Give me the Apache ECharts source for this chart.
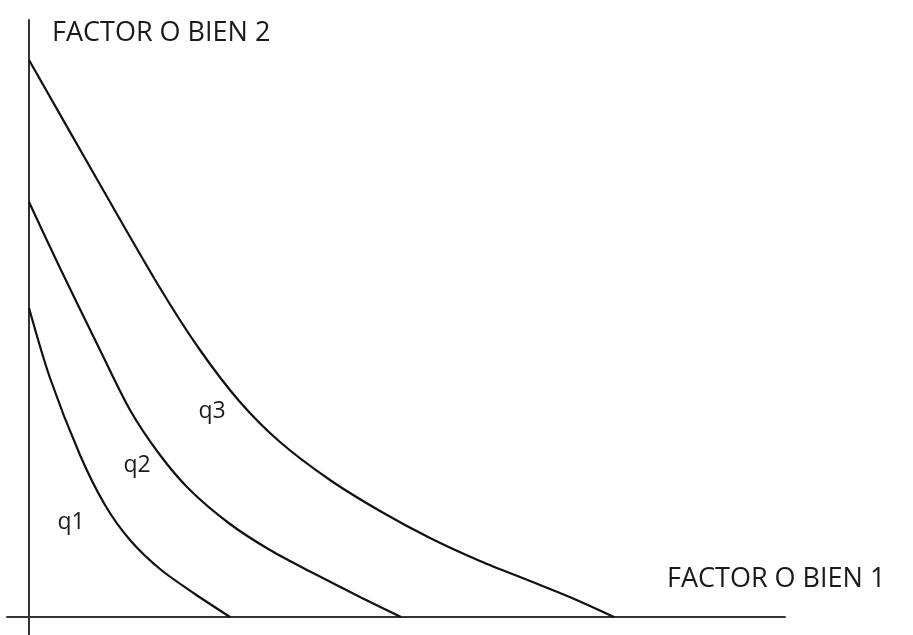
<!DOCTYPE html>
<html>
<head>
<meta charset="utf-8">
<script src="https://cdn.jsdelivr.net/npm/echarts@6/dist/echarts.min.js"></script>
<style>
  html, body { margin: 0; padding: 0; background: #fff; }
  #isoCharts { width: 913px; height: 635px; }
</style>
</head>
<body>
<div id="isoCharts"></div>
<script>
// curvas de isocuanta, [factor 1, factor 2]
var q1 = [[0, 309], [21, 239], [51, 162], [76, 112], [101, 77], [131, 48], [166, 23], [201, 0]];
var q2 = [[0, 415], [31, 349], [71, 267], [101, 207], [131, 162], [161, 127], [201, 93],
  [241, 67], [284, 44], [331, 20], [372, 0]];
var q3 = [[0, 557], [65, 443], [131, 329], [171, 267], [211, 215], [251, 175], [301, 137],
  [351, 106], [401, 79], [451, 56], [501, 36], [543, 19], [585, 0]];
var curveNames = ["q1", "q2", "q3"];
var curveLabelPos = [[42, 95], [108, 152], [183, 206]];
var xName = "FACTOR O BIEN 1";
var yName = "FACTOR O BIEN 2";

var myChart = echarts.init(document.getElementById("isoCharts"));
var ink = "#111";
var font = "'Open Sans', 'Noto Sans', sans-serif";

function curve(data) {
  return {
    type: "line",
    data: data,
    smooth: 0.3,
    symbol: "none",
    lineStyle: { color: ink, width: 2.2 },
    silent: true,
  };
}

var option = {
  backgroundColor: "#fff",
  animation: false,
  grid: { left: 7, right: 128, top: 20, bottom: 0 },
  xAxis: {
    type: "value",
    min: -22,
    max: 756,
    axisLine: { onZero: true, lineStyle: { color: "#333", width: 2 } },
    axisTick: { show: false },
    axisLabel: { show: false },
    splitLine: { show: false },
  },
  yAxis: {
    type: "value",
    min: -18,
    max: 597,
    axisLine: { show: true, onZero: true, lineStyle: { color: "#333", width: 2 } },
    axisTick: { show: false },
    axisLabel: { show: false },
    splitLine: { show: false },
  },
  graphic: [
    {
      type: "text",
      left: 52,
      top: 20,
      style: { text: yName, fill: "#1a1a1a", font: "27px " + font },
    },
    {
      type: "text",
      left: 667,
      top: 566,
      style: { text: xName, fill: "#1a1a1a", font: "27px " + font },
    },
  ],
  series: [
    curve(q1),
    curve(q2),
    curve(q3),
    {
      type: "scatter",
      symbolSize: 0,
      silent: true,
      itemStyle: { opacity: 1 },
      data: curveLabelPos.map(function (p, i) {
        return { value: p, name: curveNames[i] };
      }),
      label: {
        show: true,
        position: "inside",
        formatter: "{b}",
        color: "#1a1a1a",
        fontSize: 23,
        fontFamily: font,
      },
    },
  ],
};

myChart.setOption(option);
</script>
</body>
</html>
